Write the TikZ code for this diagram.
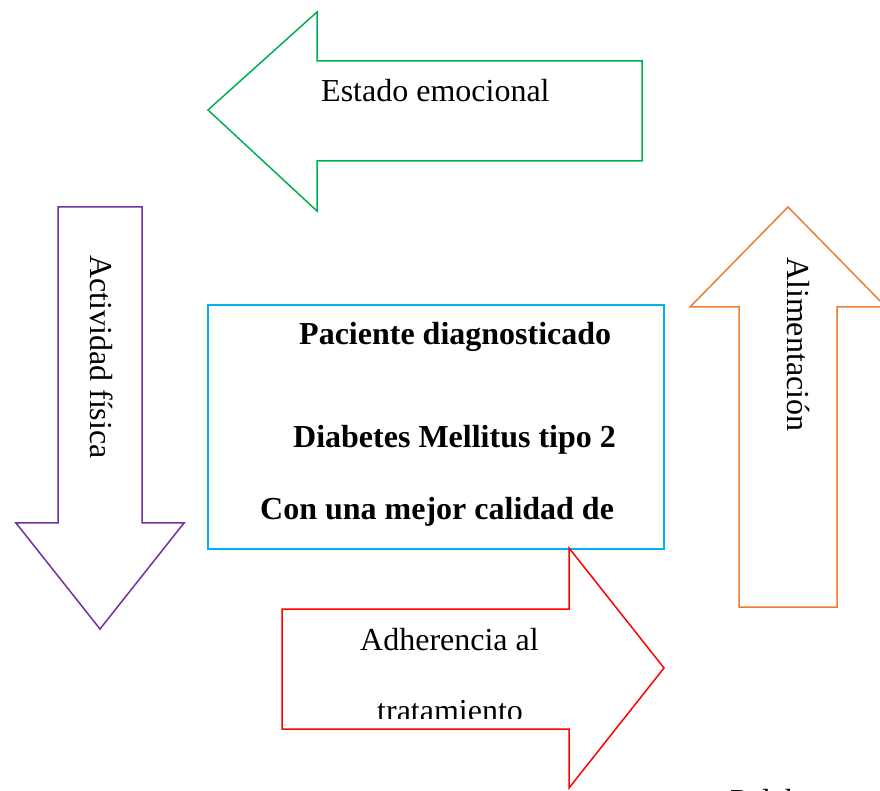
\documentclass[tikz,border=0pt]{standalone}
\usepackage{fontspec}
\setmainfont{Liberation Serif}
\definecolor{cgreen}{RGB}{0,176,80}
\definecolor{cpurple}{RGB}{112,48,160}
\definecolor{corange}{RGB}{237,125,49}
\definecolor{cred}{RGB}{255,0,0}
\definecolor{cblue}{RGB}{0,176,240}
\tikzset{
  shapeline/.style={line width=1.5pt, line join=miter},
  lbl/.style={inner sep=0pt, anchor=base west, font=\fontsize{32}{38}\selectfont},
  blbl/.style={lbl, font=\fontsize{32}{38}\selectfont\bfseries},
}
\begin{document}
\begin{tikzpicture}[x=1pt,y=1pt]
\useasboundingbox (0,0) rectangle (880,790);
\clip (0,0) rectangle (880,790);
% green arrow (left)
\draw[shapeline, cgreen] (208,680) -- (317,778) -- (317,729) -- (642,729) -- (642,629) -- (317,629) -- (317,579) -- cycle;
\node[lbl] (estado) at (321,688) {Estado emocional};
% purple arrow (down)
\draw[shapeline, cpurple] (58,583) -- (142,583) -- (142,267) -- (184,267) -- (100,161) -- (16,267) -- (58,267) -- cycle;
\node[lbl, rotate=-90] (actividad) at (90,535) {Actividad física};
% orange arrow (up)
\draw[shapeline, corange] (788,583) -- (886,483) -- (837,483) -- (837,183) -- (739,183) -- (739,483) -- (690,483) -- cycle;
\node[lbl, rotate=-90] (alim) at (787,533) {Alimentación};
% blue box
\draw[shapeline, cblue] (208,485) rectangle (664,241);
\node[blbl] (pac) at (299,445) {Paciente diagnosticado};
\node[blbl] (dm) at (293,342) {Diabetes Mellitus tipo 2};
\node[blbl] (con) at (260,270) {Con una mejor calidad de};
% red arrow (right)
\draw[shapeline, cred] (282,181) -- (569,181) -- (569,242) -- (664,122) -- (569,2) -- (569,61) -- (282,61) -- cycle;
\node[lbl] (adh) at (360,140) {Adherencia al};
\begin{scope}
\clip (282,72) rectangle (569,181);
\node[lbl] (trat) at (377,69) {tratamiento};
\end{scope}
\node[lbl] (pal) at (730,-21) {Palabras};
\end{tikzpicture}
\end{document}
